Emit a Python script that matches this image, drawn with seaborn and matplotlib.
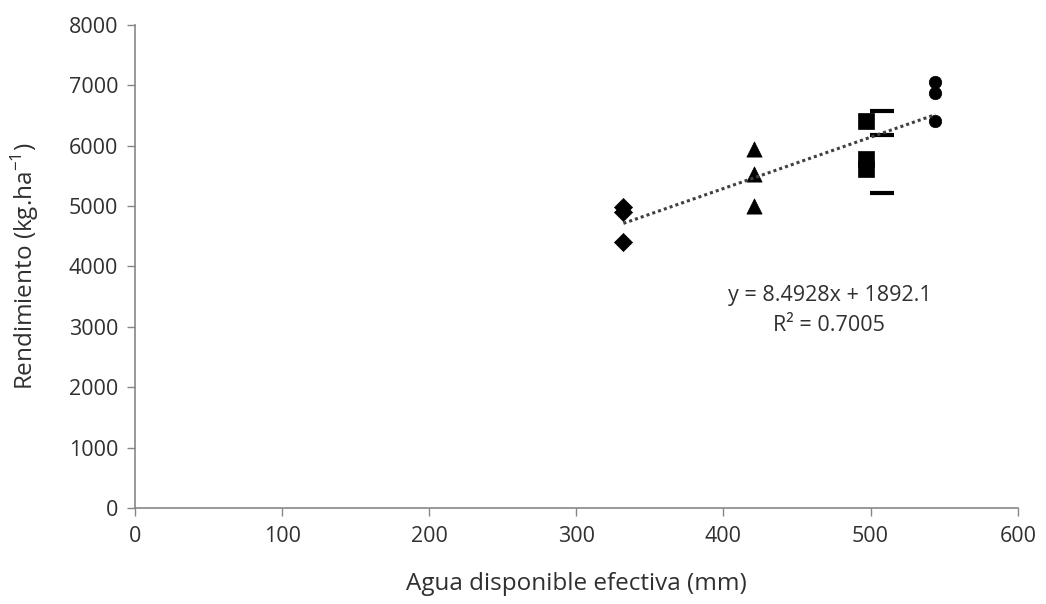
import matplotlib
matplotlib.use("Agg")
import matplotlib.pyplot as plt
import seaborn as sns
import numpy as np
import pandas as pd

# data
x_diamond = [332, 332, 332]
y_diamond = [4990, 4900, 4410]
x_triangle = [421, 421, 421]
y_triangle = [5950, 5530, 5000]
x_square = [497, 497, 497]
y_square = [6400, 5780, 5620]
x_dash = [508, 508, 508]
y_dash = [6580, 6180, 5220]
x_circle = [544, 544, 544]
y_circle = [7060, 6870, 6400]

slope = 8.4928
intercept = 1892.1
r2 = 0.7005

x_ticks = [0, 100, 200, 300, 400, 500, 600]
y_ticks = [0, 1000, 2000, 3000, 4000, 5000, 6000, 7000, 8000]

sns.set_style("white")
plt.rcParams['font.family'] = ['Open Sans', 'DejaVu Sans']

fig = plt.figure(figsize=(10.46, 6.04), dpi=100)
ax = fig.add_axes([0.129, 0.159, 0.844, 0.80])

groups = [
    (x_diamond, y_diamond, 'D', 85),
    (x_triangle, y_triangle, '^', 120),
    (x_square, y_square, 's', 120),
    (x_dash, y_dash, '_', 320),
    (x_circle, y_circle, 'o', 80),
]
for xs, ys, m, s in groups:
    df = pd.DataFrame({'x': xs, 'y': ys})
    if m == '_':
        sns.scatterplot(data=df, x='x', y='y', marker=m, s=s, color='black',
                        linewidth=3, ax=ax, legend=False)
    else:
        sns.scatterplot(data=df, x='x', y='y', marker=m, s=s, color='black',
                        edgecolor='black', linewidth=0.5, ax=ax, legend=False)

# trend line
all_x = x_diamond + x_triangle + x_square + x_dash + x_circle
xl = np.array([min(all_x), max(all_x)])
sns.lineplot(x=xl, y=slope * xl + intercept, color='#404040', linestyle=(0, (1, 1)),
             linewidth=2.2, ax=ax)

txt_col = '#303030'
ax.text(472, 3510, f"y = {slope}x + {intercept}", ha='center', va='center',
        fontsize=15.5, color=txt_col)
ax.text(472, 3015, f"R² = {r2}", ha='center', va='center',
        fontsize=15.5, color=txt_col)

ax.set_xlim(0, 600)
ax.set_ylim(0, 8000)
ax.set_xticks(x_ticks)
ax.set_yticks(y_ticks)
ax.tick_params(axis='both', labelsize=15.5, labelcolor=txt_col, length=6,
               width=1, direction='out', color='#868686', bottom=True, left=True)
ax.tick_params(axis='x', pad=7)
ax.tick_params(axis='y', pad=6)
for side in ['top', 'right']:
    ax.spines[side].set_visible(False)
for side in ['left', 'bottom']:
    ax.spines[side].set_color('#868686')
    ax.spines[side].set_linewidth(1.2)

ax.set_xlabel("Agua disponible efectiva (mm)", fontsize=17.5, color=txt_col, labelpad=18)
ax.set_ylabel("Rendimiento (kg.ha$^{\\mathregular{-1}}$)", fontsize=17.5, color=txt_col, labelpad=20)

fig.savefig("out.png", dpi=100)
